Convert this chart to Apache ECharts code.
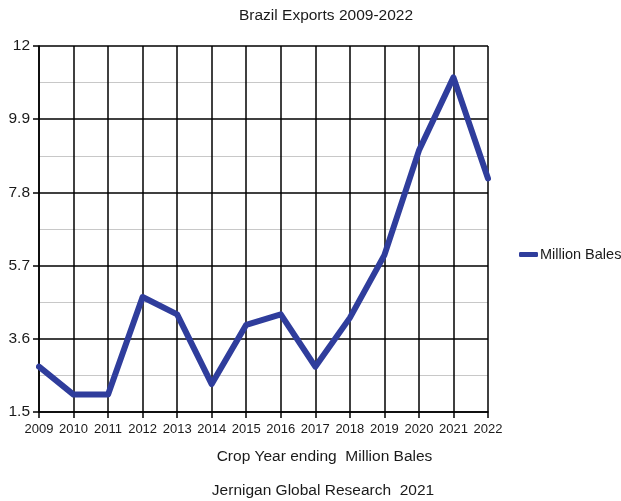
<!DOCTYPE html>
<html>
<head>
<meta charset="utf-8">
<script src="https://cdn.jsdelivr.net/npm/echarts@6/dist/echarts.min.js"></script>
<style>
  html, body { margin: 0; padding: 0; background: #fff; }
  #chart { width: 621px; height: 501px; }
</style>
</head>
<body>
<div id="chart"></div>
<script>
// Crop years and Brazil export volumes (million bales)
const years = ['2009', '2010', '2011', '2012', '2013', '2014', '2015', '2016', '2017', '2018', '2019', '2020', '2021', '2022'];
const exportsMillionBales = [2.8, 2.0, 2.0, 4.8, 4.3, 2.3, 4.0, 4.3, 2.8, 4.2, 6.0, 9.0, 11.1, 8.2];
const yMajorTicks = [1.5, 3.6, 5.7, 7.8, 9.9, 12];
const yMinorTicks = [2.55, 4.65, 6.75, 8.85, 10.95];

const FONT = 'Liberation Sans, Arial, sans-serif';
const TEXT = '#1a1a1a';

const chart = echarts.init(document.getElementById('chart'), null, { renderer: 'canvas' });

chart.setOption({
  animation: false,
  backgroundColor: '#ffffff',
  title: [
    {
      text: 'Brazil Exports 2009-2022',
      left: 321, top: 3, textAlign: 'center',
      textStyle: { fontFamily: FONT, fontSize: 15.5, fontWeight: 'normal', color: TEXT }
    },
    {
      text: 'Crop Year ending  Million Bales',
      left: 319.5, top: 444, textAlign: 'center',
      textStyle: { fontFamily: FONT, fontSize: 15.5, fontWeight: 'normal', color: TEXT }
    },
    {
      text: 'Jernigan Global Research  2021',
      left: 318, top: 478, textAlign: 'center',
      textStyle: { fontFamily: FONT, fontSize: 15.5, fontWeight: 'normal', color: TEXT }
    }
  ],
  legend: {
    orient: 'vertical',
    left: 519, top: 247,
    padding: 0,
    icon: 'roundRect',
    itemWidth: 19, itemHeight: 5, itemGap: 6,
    textStyle: { fontFamily: FONT, fontSize: 14.5, color: TEXT, padding: [0, 0, 0, -3] },
    data: ['Million Bales']
  },
  grid: { left: 39, right: 133, top: 46, bottom: 89 },
  xAxis: {
    type: 'category',
    data: years,
    boundaryGap: false,
    axisLine: { show: true, lineStyle: { color: '#000', width: 1.5 } },
    axisTick: { show: true, length: 6, lineStyle: { color: '#000', width: 1.5 } },
    axisLabel: { fontFamily: FONT, fontSize: 13, color: TEXT, margin: 11, interval: 0 },
    splitLine: { show: true, lineStyle: { color: '#000', width: 1.5 } }
  },
  yAxis: [
    {
      type: 'value',
      min: 1.5, max: 12,
      axisLine: { show: true, lineStyle: { color: '#000', width: 1.5 } },
      axisTick: { show: true, length: 6, customValues: yMajorTicks, lineStyle: { color: '#000', width: 1.5 } },
      axisLabel: { fontFamily: FONT, fontSize: 15.5, color: TEXT, margin: 9, customValues: yMajorTicks },
      splitLine: { show: true, lineStyle: { color: '#000', width: 1.5 } }
    },
    {
      type: 'value',
      min: 1.5, max: 12,
      position: 'left',
      axisLine: { show: false },
      axisTick: { show: false, customValues: yMinorTicks },
      axisLabel: { show: false, customValues: yMinorTicks },
      splitLine: { show: true, lineStyle: { color: '#c8c8c8', width: 1.2 } }
    }
  ],
  series: [
    {
      name: 'Million Bales',
      type: 'line',
      data: exportsMillionBales,
      yAxisIndex: 0,
      showSymbol: false,
      symbol: 'none',
      lineStyle: { color: '#2f3d9c', width: 6, join: 'round', cap: 'round' },
      itemStyle: { color: '#2f3d9c' },
      z: 5
    }
  ]
});
</script>
</body>
</html>
